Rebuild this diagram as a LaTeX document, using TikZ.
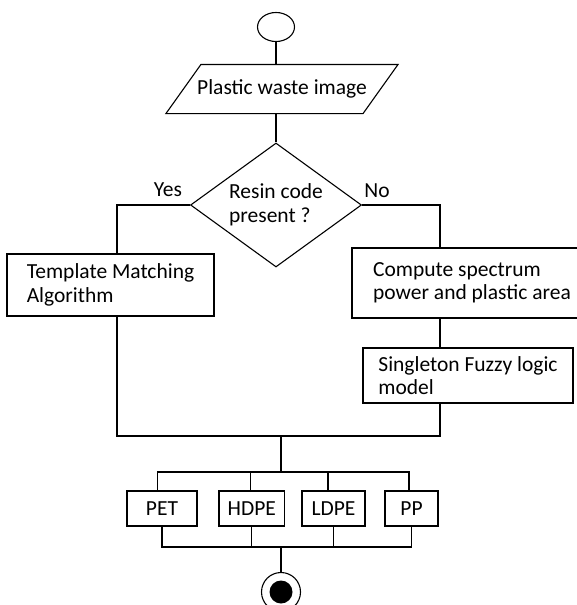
\documentclass[tikz,border=0pt]{standalone}
\usepackage{fontspec}
\setmainfont{Carlito}
\usetikzlibrary{positioning,shapes.geometric}

\begin{document}
\begin{tikzpicture}[
  x=1pt,y=-1pt,
  on grid,
  line width=1.1pt,
  every node/.style={font=\fontsize{21.5}{23.5}\selectfont},
  terminal/.style={ellipse,draw,minimum width=37pt,minimum height=29pt,inner sep=0pt},
  io/.style={rectangle,minimum width=196pt,minimum height=48pt,inner sep=0pt},
  decision/.style={diamond,draw,aspect=1.38,minimum width=171pt,minimum height=124pt,
    inner sep=0pt,align=left},
  process/.style={rectangle,draw,align=left,inner sep=0pt},
  plastic/.style={rectangle,draw,minimum height=35pt,inner sep=0pt}]
  \useasboundingbox (0,0) rectangle (577,605);
  % tm-template matching spec-spectrum fuzzy-fuzzy model bus-class bus
  \node [terminal] (start) at (276,27) {};
  \node [io]       (input) [below right=62pt and 6pt of start] {Plastic waste image};
  \draw ([xshift=17.5pt]input.north west) -- ([xshift=17.5pt]input.north east)
    -- ([xshift=-17.5pt]input.south east) -- ([xshift=-17.5pt]input.south west) -- cycle;
  \node [decision] (resin) at (276,205) {Resin code\\present ?};
  \node (yes) at (168,190) {Yes};
  \node (no)  at (377,191) {No};
  \node [process,minimum width=207pt,minimum height=62pt] (tm)
    [below left=80pt and 165.5pt of resin] {Template Matching\\Algorithm};
  \node [process,minimum width=240pt,minimum height=70pt] (spec)
    [below right=78pt and 196pt of resin] {Compute spectrum\\power and plastic area};
  \node [process,minimum width=210pt,minimum height=55pt] (fuzzy)
    [below left=92.5pt and 4pt of spec] {Singleton Fuzzy logic\\model};
  \node [plastic,minimum width=70pt]   (pet)  at (162,508.5) {PET};
  \node [plastic,minimum width=65.5pt] (hdpe) at (251.75,508.5) {HDPE};
  \node [plastic,minimum width=63pt]   (ldpe) at (333.5,508.5) {LDPE};
  \node [plastic,minimum width=53pt]   (pp)   at (411.5,508.5) {PP};
  \node [circle,draw,minimum size=39pt,inner sep=0pt] (stop) at (281,592) {};
  \node [circle,fill,minimum size=23pt,inner sep=0pt] (dot) at (stop) {};
  \coordinate (lcol) at (117,0);
  \coordinate (rcol) at (440,0);
  \coordinate (join) at (281,436);
  \coordinate (bustop) at (281,472);
  \coordinate (busbot) at (281,547);

  \draw (start) -- (start |- input.north);
  \draw (resin |- input.south) -- (resin);
  \draw (resin.west) -| (tm.north -| lcol);
  \draw (resin.east) -| (spec.north -| rcol);
  \draw (spec.south -| rcol) -- (fuzzy.north -| rcol);
  \draw (tm.south -| lcol) |- (join) -| (fuzzy.south -| rcol);
  \draw (join) -- (bustop);
  \foreach \b/\dx in {pet/-4.5,hdpe/-1,ldpe/-5.5,pp/-2.5}
    \draw ([xshift=\dx pt]\b.north) |- (bustop);
  \foreach \b in {pet,hdpe,ldpe,pp}
    \draw (\b.south) |- (busbot);
  \draw (busbot) -- (stop);
\end{tikzpicture}
\end{document}
